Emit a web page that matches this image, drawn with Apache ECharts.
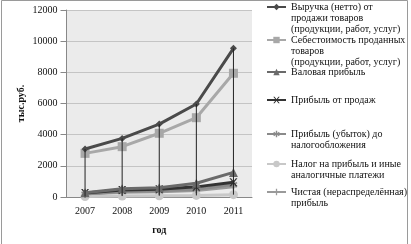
<!DOCTYPE html>
<html><head><meta charset="utf-8">
<script src="https://cdn.jsdelivr.net/npm/echarts@6/dist/echarts.min.js"></script>
<style>html,body{margin:0;padding:0;background:#fff}#c{width:411px;height:244px}</style>
</head><body><div id="c"></div>
<script>
const years = ['2007','2008','2009','2010','2011'];
const revenue = [3080, 3760, 4680, 5970, 9540];
const cost = [2800, 3230, 4090, 5090, 7940];
const grossProfit = [280, 530, 600, 880, 1580];
const salesProfit = [250, 450, 500, 650, 950];
const pretaxProfit = [200, 350, 400, 500, 800];
const tax = [30, 60, 80, 100, 150];
const netProfit = [170, 300, 330, 420, 650];
const yTicks = [0, 2000, 4000, 6000, 8000, 10000, 12000];

const names = [
  'Выручка (нетто) от\nпродажи товаров\n(продукции, работ, услуг)',
  'Себестоимость проданных\nтоваров\n(продукции, работ, услуг)',
  'Валовая прибыль',
  'Прибыль от продаж',
  'Прибыль (убыток) до\nналогообложения',
  'Налог на прибыль и иные\nаналогичные платежи',
  'Чистая (нераспределённая)\nприбыль'
];
const values = [revenue, cost, grossProfit, salesProfit, pretaxProfit, tax, netProfit];
const colors = ['#4a4a4a', '#a8a8a8', '#6a6a6a', '#333333', '#8a8a8a', '#c8c8c8', '#9a9a9a'];
const symbols = [
  'diamond', 'rect', 'triangle',
  'path://M0,0L2,0L5,3L8,0L10,0L6,4L10,8L8,8L5,5L2,8L0,8L4,4Z',
  'path://M4,0L6,0L6,3L8.5,1.5L9.5,3L7,4.5L9.5,6L8.5,7.5L6,6L6,9L4,9L4,6L1.5,7.5L0.5,6L3,4.5L0.5,3L1.5,1.5L4,3Z',
  'circle',
  'path://M4,0L6,0L6,4L10,4L10,6L6,6L6,10L4,10L4,6L0,6L0,4L4,4Z'
];
const symSizes = [7, 9, 9, 8, 8, 9, 7];
const FONT = '"Liberation Serif", "Times New Roman", serif';

const dropData = years.map((y, i) => {
  const vals = values.map(v => v[i]);
  return [i, Math.min(...vals), Math.max(...vals)];
});

const series = values.map((v, k) => ({
  name: names[k], type: 'line', data: v,
  symbol: symbols[k], symbolSize: symSizes[k], showSymbol: true,
  lineStyle: {width: 3, color: colors[k]},
  itemStyle: {color: colors[k]},
  z: 10 - k, animation: false
}));
series.push({
  type: 'custom', data: dropData, z: 20, silent: true, animation: false,
  renderItem: (params, api) => {
    const a = api.coord([api.value(0), api.value(1)]);
    const b = api.coord([api.value(0), api.value(2)]);
    return {type: 'line', shape: {x1: a[0], y1: a[1], x2: b[0], y2: b[1]},
      style: {stroke: '#222', lineWidth: 1}};
  }
});

// legend: icon centre y for each item; icon aligned to the first text line
const iconY = [7, 40, 72, 100, 134, 164, 192];
const lh = 11;
const legends = names.map((n, k) => {
  const lines = n.split('\n').length;
  const H = (2 * lines - 1) * lh;
  return {
    data: [n],
    formatter: name => '\n'.repeat(lines - 1) + name,
    orient: 'vertical', left: 266, top: iconY[k] - H / 2, padding: 0,
    itemWidth: 19, itemHeight: 8, itemGap: 0,
    textStyle: {fontFamily: FONT, fontSize: 10, color: '#111', lineHeight: lh},
    selectedMode: false
  };
});

const chart = echarts.init(document.getElementById('c'), null, {renderer: 'canvas'});
chart.setOption({
  animation: false,
  backgroundColor: '#fff',
  graphic: [{type: 'rect', shape: {x: 1.5, y: 0.5, width: 406, height: 250}, style: {fill: 'none', stroke: '#9a9a9a', lineWidth: 1}, z: 100}],
  grid: {left: 66.5, right: 159, top: 10, bottom: 47, show: true, backgroundColor: '#ebebeb', borderWidth: 0},
  legend: legends,
  xAxis: {
    type: 'category', data: years, boundaryGap: true,
    name: 'год', nameLocation: 'middle', nameGap: 28,
    nameTextStyle: {fontFamily: FONT, fontSize: 10, fontWeight: 'bold', color: '#111'},
    axisLine: {lineStyle: {color: '#888'}},
    axisTick: {show: false},
    axisLabel: {fontFamily: FONT, fontSize: 10, color: '#111', margin: 9}
  },
  yAxis: {
    type: 'value', min: 0, max: 12000, interval: 2000,
    name: 'тыс.руб.', nameLocation: 'middle', nameRotate: 90, nameGap: 40,
    nameTextStyle: {fontFamily: FONT, fontSize: 10, fontWeight: 'bold', color: '#111'},
    axisLine: {show: true, lineStyle: {color: '#888'}},
    axisTick: {show: true, length: 6, lineStyle: {color: '#888'}},
    splitLine: {lineStyle: {color: '#c4c4c4'}},
    axisLabel: {fontFamily: FONT, fontSize: 10, color: '#111', margin: 9,
      formatter: v => yTicks.includes(v) ? String(v) : ''}
  },
  series: series
});
</script></body></html>
